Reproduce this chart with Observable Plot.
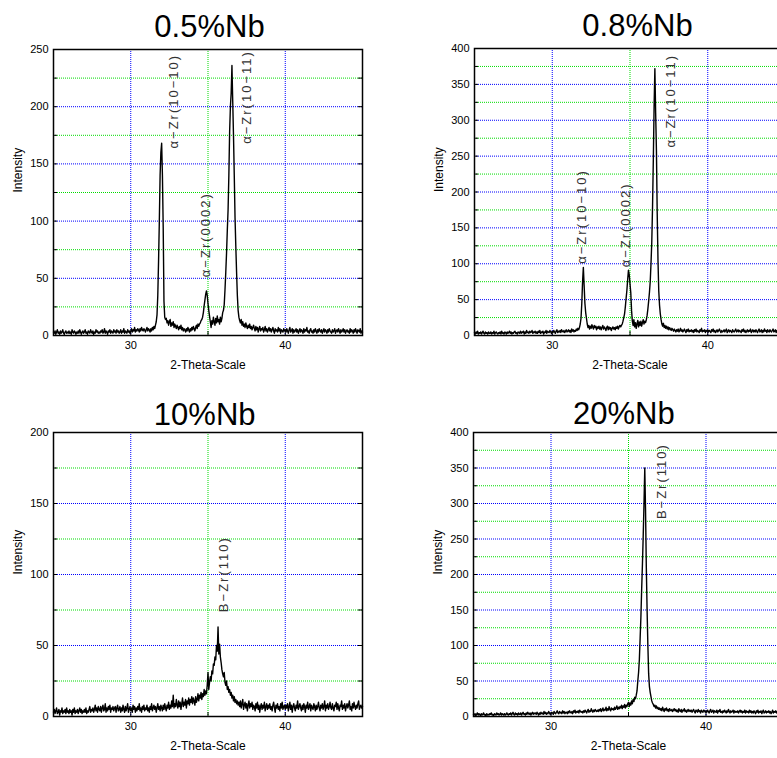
<!DOCTYPE html>
<html><head><meta charset="utf-8">
<script src="https://cdn.jsdelivr.net/npm/d3@7"></script>
<script src="https://cdn.jsdelivr.net/npm/@observablehq/plot@0.6"></script>
<style>
body{margin:0;background:#fff;}
#wrap{position:relative;width:777px;height:758px;overflow:hidden;font-family:"Liberation Sans",Arial,sans-serif;background:#fff;}
#topRow{position:absolute;left:0;top:0;width:777px;height:376px;overflow:hidden;}
.panel{position:absolute;}
.panel svg{max-width:none !important;display:block;}
.title{position:absolute;font-size:31px;line-height:31px;transform:translateX(-50%);white-space:nowrap;color:#000;}
</style></head><body><div id="wrap"><div id="topRow"></div></div>
<script>
// 2-theta grid: 25 to 45 deg, step 0.05
const twoThetaStart = 25, twoThetaStep = 0.05;

const titles = ["0.5%Nb", "0.8%Nb", "10%Nb", "20%Nb"];
const xTickLabels = [30, 40];
const xAxisTitle = "2-Theta-Scale";
const yAxisTitle = "Intensity";
const yMaxes = [250, 400, 200, 400];

// intensities (one row per degree, 20 samples each)
const int05 = [
3,2,4,1,3,5,2,3,1,4,2,3,5,2,1,3,4,2,3,2,
4,2,3,1,5,3,2,4,3,1,3,2,4,2,5,3,1,3,4,2,
3,5,2,3,1,4,3,2,5,3,2,4,1,3,2,5,3,4,2,3,
2,4,3,5,2,3,6,2,4,3,1,4,3,5,2,4,3,2,5,3,
4,2,5,3,4,2,3,5,2,4,3,6,2,4,3,2,5,3,4,2,
4,6,3,5,4,7,3,5,4,6,5,3,6,4,7,5,4,6,5,3,
5,7,4,6,5,3,6,4,7,5,8,6,9,12,18,35,65,100,140,160,
168,140,95,30,16,14,15,11,13,9,12,14,8,11,9,12,7,10,8,6,
9,7,5,8,6,9,5,7,4,6,5,3,6,4,7,5,3,6,4,7,
5,8,6,4,7,9,6,10,8,10,11,13,14,16,20,26,31,36,39,35,
28,22,17,12,7,13,10,16,12,9,15,11,17,12,14,10,16,12,15,20,
22,27,40,55,72,92,110,140,178,200,212,236,205,175,140,103,78,55,35,22,
16,13,11,14,9,12,8,10,7,11,8,6,9,7,10,6,8,5,7,9,
6,4,8,5,7,3,6,8,4,6,5,7,3,5,8,4,6,3,5,7,
4,6,3,5,7,4,2,6,4,5,3,7,4,6,2,5,4,3,6,4,
5,3,6,4,2,5,7,3,4,6,2,5,3,4,6,3,5,2,4,6,
3,5,4,2,6,3,5,4,7,3,4,2,5,6,3,4,2,5,3,6,
4,2,5,3,6,4,3,5,2,4,6,3,5,4,2,5,3,6,4,3,
2,5,3,4,6,2,4,5,3,6,4,2,5,3,4,6,3,5,2,4,
5,3,4,2,6,3,5,4,2,5,3,6,4,2,5,4,3,6,2,4,
3];

const int08 = [
4,2,5,3,6,2,4,3,5,2,4,6,3,2,5,3,4,2,5,3,
3,5,2,4,3,6,2,4,5,3,2,4,3,5,2,6,3,4,2,5,
4,2,5,3,4,6,3,5,2,4,3,5,6,3,4,2,5,4,3,6,
3,5,4,6,2,5,3,7,4,5,3,6,4,5,7,3,5,4,6,3,
5,3,6,4,7,3,5,4,6,2,5,4,7,3,6,5,4,7,5,3,
6,4,7,5,3,6,8,4,6,5,7,4,8,6,5,7,4,6,8,5,
6,8,5,7,4,9,6,8,5,7,6,9,7,10,8,11,16,24,45,75,
95,70,45,32,24,16,11,14,9,13,10,15,12,9,14,11,13,8,12,10,
13,9,12,8,11,14,9,12,10,7,11,13,8,12,9,11,7,10,12,9,
11,8,12,10,13,9,12,14,12,14,16,20,25,30,40,52,63,78,91,85,
72,60,35,20,14,22,12,18,10,16,21,12,19,14,20,13,18,22,16,20,
18,22,28,37,48,60,75,100,130,180,245,320,372,310,258,170,105,62,42,30,
22,16,13,17,11,14,10,13,9,12,8,11,9,7,10,8,6,9,7,5,
8,6,9,5,7,10,6,8,5,7,9,6,4,8,6,9,5,7,6,8,
5,7,4,8,6,9,5,7,6,4,8,6,10,5,7,6,8,4,7,6,
8,5,7,6,4,8,6,9,5,7,4,6,8,5,7,9,6,4,7,5,
6,8,5,7,9,4,6,8,5,7,6,4,8,6,5,7,9,5,6,8,
5,7,6,4,8,6,9,5,7,4,6,8,5,7,6,9,4,6,8,5,
7,5,8,6,4,7,9,5,6,8,4,7,5,9,6,7,4,8,6,5,
8,6,5,7,9,5,6,8,4,7,6,9,5,7,8,6,5,8,7,6,
7];

const int10 = [
3,5,2,4,6,2,3,5,1,4,3,6,2,4,3,5,2,6,3,4,
2,5,3,4,1,5,3,6,2,4,3,5,2,4,6,3,5,2,4,3,
5,3,6,2,4,3,5,7,3,5,4,6,3,5,8,4,6,3,7,5,
4,7,3,6,8,4,5,9,3,6,4,7,5,8,3,6,5,7,4,6,
7,3,6,8,4,5,7,3,6,4,8,5,3,7,4,6,9,3,5,7,
4,6,3,8,5,7,3,6,4,7,5,9,4,6,3,7,5,8,4,6,
5,8,4,6,3,7,5,9,4,6,8,5,7,3,6,9,5,7,4,8,
6,4,8,5,9,6,4,8,6,10,5,8,6,11,7,15,6,9,7,12,
8,6,11,7,10,5,9,13,7,10,8,12,6,11,9,13,8,12,10,14,
9,13,11,8,14,10,12,16,11,15,13,17,12,16,14,19,15,18,16,22,
31,19,24,28,25,32,30,37,36,42,40,50,46,63,44,51,42,38,33,30,
28,31,24,22,25,19,21,17,19,15,17,13,15,11,14,10,12,9,11,8,
10,7,11,6,9,12,5,8,10,6,9,4,8,11,6,9,7,10,5,8,
7,4,9,6,10,5,8,3,7,9,5,8,6,10,4,7,9,5,8,6,
9,5,7,4,8,10,6,3,8,6,9,5,7,4,9,6,10,5,7,8,
5,8,6,9,4,7,10,5,8,3,7,9,6,4,8,6,11,5,7,9,
6,4,8,5,9,7,3,8,6,10,5,7,9,4,8,6,5,9,7,4,
8,5,7,10,6,4,8,6,9,5,7,11,4,8,6,9,5,7,10,6,
5,9,6,4,8,7,10,5,9,6,4,8,7,11,5,8,6,9,4,7,
9,6,8,11,5,7,4,9,6,10,7,5,8,6,9,11,5,7,8,6,
7];

const int20 = [
3,2,4,1,3,5,2,4,3,1,4,2,3,5,2,3,1,4,2,3,
2,4,3,5,2,3,1,4,3,2,5,3,4,2,3,5,2,4,3,2,
4,2,3,5,3,2,4,3,5,2,4,6,3,2,5,3,4,2,5,3,
3,5,2,4,6,3,4,2,5,3,6,4,3,5,2,4,6,3,5,4,
5,3,6,4,2,5,3,6,4,5,3,7,4,6,3,5,4,7,5,3,
4,6,5,3,7,5,4,6,8,5,4,7,5,6,4,8,5,7,4,6,
6,4,7,5,8,6,5,7,4,8,6,9,5,7,6,8,5,9,7,6,
7,5,8,6,9,7,5,8,10,6,8,7,11,8,6,9,7,10,8,7,
9,7,10,8,11,7,9,12,8,10,9,13,8,11,9,14,10,8,12,10,
11,9,13,10,12,15,10,13,11,14,12,16,11,15,13,17,12,16,14,18,
20,14,19,16,22,18,24,21,27,25,30,36,50,62,80,110,140,180,215,255,
300,350,290,210,150,100,60,42,34,28,22,19,17,14,16,12,15,11,13,10,
12,9,11,8,13,10,7,11,9,12,8,10,7,11,9,8,10,7,9,11,
8,10,7,9,6,11,8,7,10,6,9,8,11,7,9,6,8,10,7,9,
7,9,6,8,10,7,5,9,8,6,10,7,8,5,9,7,6,9,8,6,
8,6,9,7,5,8,10,6,7,9,5,8,7,6,9,5,8,7,10,6,
7,5,8,6,9,7,5,8,6,10,7,5,8,6,7,9,5,8,6,7,
6,8,5,7,9,6,8,5,7,6,9,5,8,6,7,5,9,6,8,5,
7,5,8,6,4,8,6,9,5,7,6,8,4,7,9,5,6,8,5,7,
6,8,5,7,4,6,9,5,7,6,8,5,7,4,6,8,5,7,6,8,
6];

// peak annotations
const peakNames05 = ["α−Zr(10−10)", "α−Zr(0002)", "α−Zr(10−11)"];
const peakX05 = [32.8, 34.87, 37.54];
const peakY05 = [163.5, 51, 167.6];
const peakNames08 = ["α−Zr(10−10)", "α−Zr(0002)", "α−Zr(10−11)"];
const peakX08 = [31.87, 34.73, 37.6];
const peakY08 = [100, 95, 262];
const peakNames10 = ["B−Zr(110)"];
const peakX10 = [36.0];
const peakY10 = [73.5];
const peakNames20 = ["B−Zr(110)"];
const peakX20 = [37.12];
const peakY20 = [278];

const FONT = '"Liberation Sans", Arial, sans-serif';

function makePanel(cfg) {
  const {values, yMax, names, px, py, width, height, ml, mr, mt, mb} = cfg;
  const data = values.map((v, i) => ({x: +(twoThetaStart + i * twoThetaStep).toFixed(2), y: v}));
  const labels = names.map((n, i) => ({label: n, x: px[i], y: py[i]}));
  const grid = d3.range(25, yMax, 25);
  const fw = width - ml - mr, fh = height - mt - mb;
  const svg = Plot.plot({
    width, height,
    marginLeft: ml, marginRight: mr, marginTop: mt, marginBottom: mb,
    x: {domain: [25, 45], label: null},
    y: {domain: [0, yMax], label: null},
    style: {fontFamily: FONT, fontSize: "11px", background: "transparent", overflow: "visible", color: "#000"},
    marks: [
      Plot.ruleY(grid.filter(v => v % 50 === 0), {stroke: "#0000ff", strokeDasharray: "1,1", strokeWidth: 1}),
      Plot.ruleY(grid.filter(v => v % 50 !== 0), {stroke: "#00dd00", strokeDasharray: "1,1", strokeWidth: 1}),
      Plot.ruleX([30, 40], {stroke: "#0000ff", strokeDasharray: "1,1", strokeWidth: 1}),
      Plot.ruleX([35], {stroke: "#00dd00", strokeDasharray: "1,1", strokeWidth: 1}),
      Plot.tickY(grid, {stroke: "#000", insetRight: fw - 4}),
      Plot.tickY(grid, {stroke: "#000", insetLeft: fw - 4}),
      Plot.tickX([30, 35, 40], {stroke: "#000", insetTop: fh - 4}),
      Plot.line(data, {x: "x", y: "y", stroke: "#000", strokeWidth: 1.4}),
      Plot.text(labels, {x: "x", y: "y", text: "label", rotate: -90, textAnchor: "start", fontSize: 13, fill: "#333"}),
      Plot.frame({stroke: "#000", strokeWidth: 1.5}),
      Plot.axisY(d3.range(0, yMax + 1, 50), {tickSize: 0, tickPadding: 5, label: null, fontSize: 11}),
      Plot.axisX(xTickLabels, {tickSize: 0, tickPadding: 6, label: null, fontSize: 11}),
      Plot.text([yAxisTitle], {text: d => d, frameAnchor: "left", dx: -35, rotate: -90, fontSize: 12}),
      Plot.text([xAxisTitle], {text: d => d, frameAnchor: "bottom", dy: 33, fontSize: 12})
    ]
  });
  d3.select(svg).selectAll("text")
    .filter(function() { return /Zr/.test(this.textContent); })
    .style("letter-spacing", "2px");
  return svg;
}

const panels = [
  {values: int05, yMax: yMaxes[0], names: peakNames05, px: peakX05, py: peakY05, left: 0, top: 0, width: 390, height: 390, ml: 53, mr: 28, mt: 49, mb: 55, parent: "topRow", tx: 209.5, ty: 10.8},
  {values: int08, yMax: yMaxes[1], names: peakNames08, px: peakX08, py: peakY08, left: 400, top: 0, width: 400, height: 390, ml: 74, mr: 15, mt: 48, mb: 55, parent: "topRow", tx: 637.5, ty: 9.5},
  {values: int10, yMax: yMaxes[2], names: peakNames10, px: peakX10, py: peakY10, left: 0, top: 390, width: 390, height: 368, ml: 53, mr: 28, mt: 42, mb: 42, parent: "wrap", tx: 204.7, ty: 398.8},
  {values: int20, yMax: yMaxes[3], names: peakNames20, px: peakX20, py: peakY20, left: 400, top: 390, width: 400, height: 368, ml: 73, mr: 17, mt: 42, mb: 42, parent: "wrap", tx: 623.8, ty: 398.1}
];

panels.forEach((cfg, i) => {
  const holder = document.createElement("div");
  holder.className = "panel";
  holder.style.left = cfg.left + "px";
  holder.style.top = cfg.top + "px";
  holder.style.width = cfg.width + "px";
  holder.style.height = cfg.height + "px";
  holder.appendChild(makePanel(cfg));
  document.getElementById(cfg.parent).appendChild(holder);
  const t = document.createElement("div");
  t.className = "title";
  t.textContent = titles[i];
  t.style.left = cfg.tx + "px";
  t.style.top = cfg.ty + "px";
  document.getElementById("wrap").appendChild(t);
});
</script>
</body></html>
